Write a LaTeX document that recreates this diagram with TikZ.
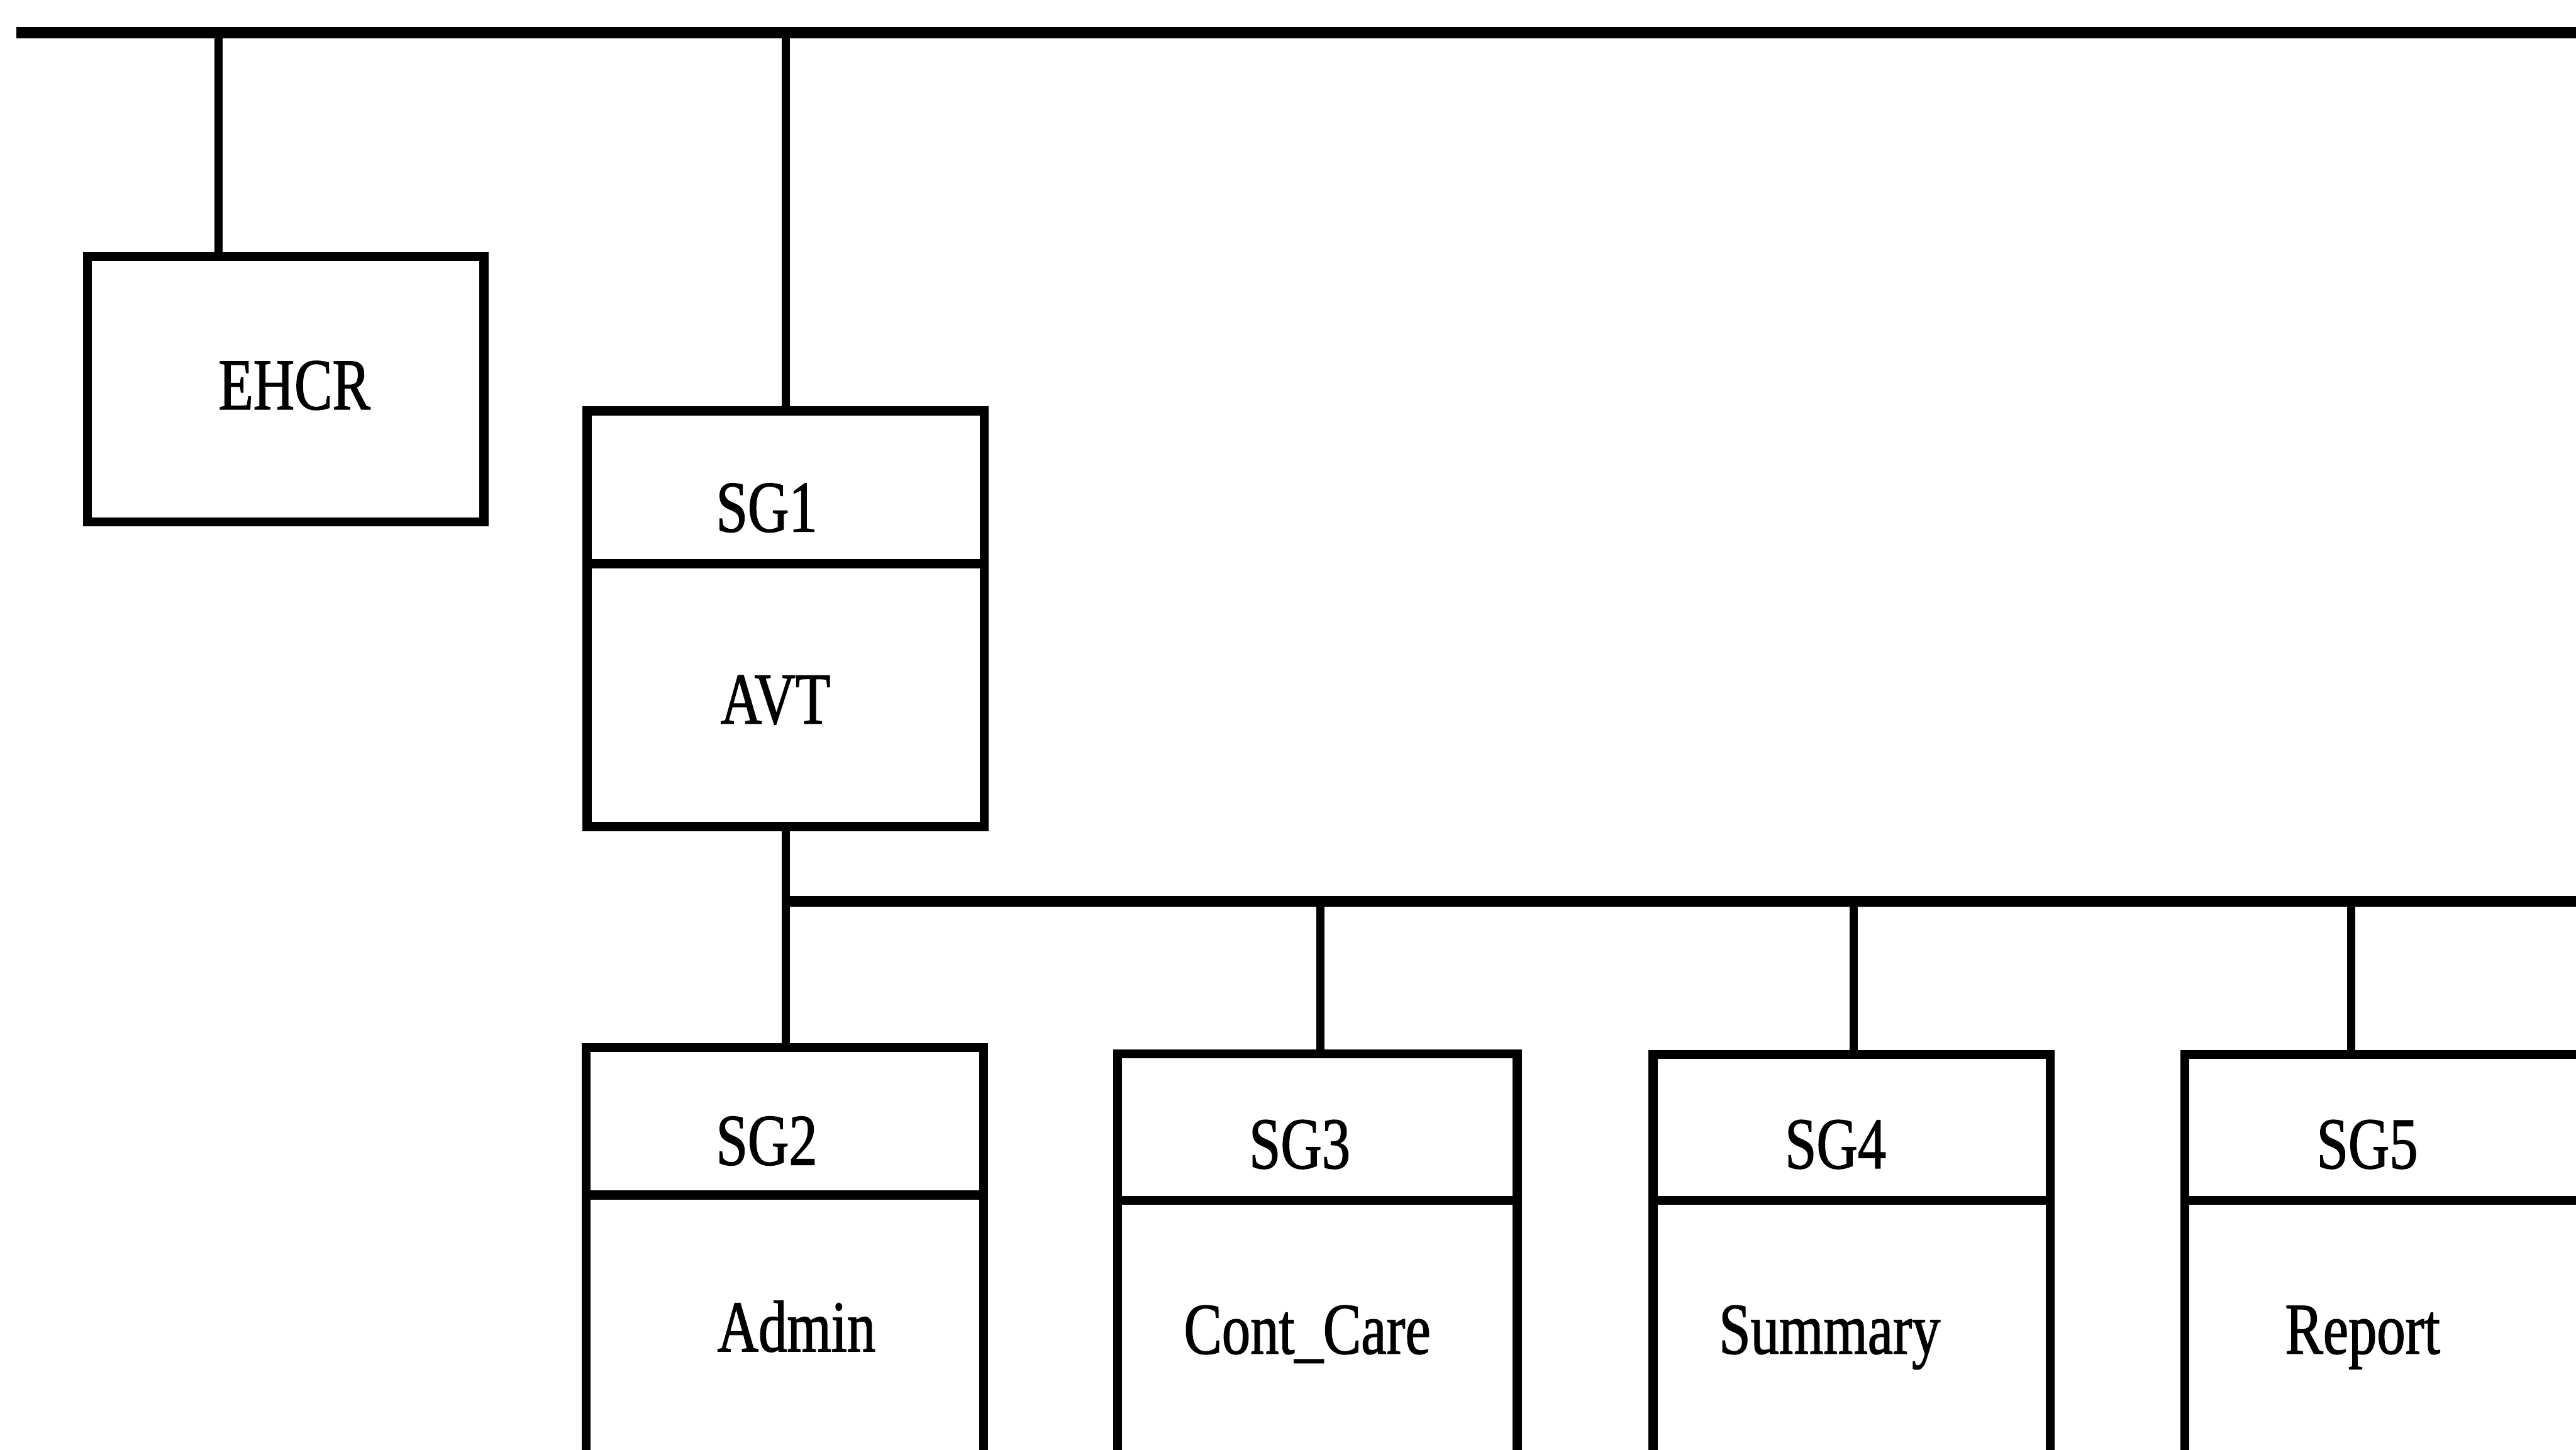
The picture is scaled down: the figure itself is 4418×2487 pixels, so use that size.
\documentclass[tikz,border=0pt]{standalone}
\usepackage{fontspec}
\setmainfont[FakeStretch=0.78,FakeBold=1.2]{Liberation Serif}
\usetikzlibrary{fit}
\begin{document}
\begin{tikzpicture}[x=0.01cm, y=-0.01cm,
  box/.style={draw, line width=0.155cm, inner sep=0pt, outer sep=0pt},
  wire/.style={line width=0.14cm},
  busline/.style={line width=0.19cm},
  lbl/.style={inner sep=0pt, anchor=base, font=\fontsize{35.6}{40}\selectfont}]
\useasboundingbox (0,0) rectangle (4418,2487);
\clip (0,0) rectangle (4418,2487);

% boxes
\node[box, fit={(150,440) (830,895)}] (ehcr) {};
\node[box, fit={(1007,705) (1688,967)}] (sg1) {};
\node[box, fit={(1007,967) (1688,1418)}] (avt) {};
\node[box, fit={(1005,1797) (1687,2050)}] (sg2) {};
\node[box, fit={(1005,2050) (1687,2600)}] (admin) {};
\node[box, fit={(1917,1808) (2602,2059)}] (sg3) {};
\node[box, fit={(1917,2059) (2602,2600)}] (cont) {};
\node[box, fit={(2835,1809) (3516,2059)}] (sg4) {};
\node[box, fit={(2835,2059) (3516,2600)}] (summ) {};
\node[box, fit={(3747,1809) (4429,2059)}] (sg5) {};
\node[box, fit={(3747,2059) (4429,2600)}] (rep) {};

% labels
\node[lbl] (ehcr-t) at (505,702) {EHCR};
\node[lbl] (sg1-t) at (1315,912) {SG1};
\node[lbl] (avt-t) at (1330,1241) {AVT};
\node[lbl] (sg2-t) at (1315,1998) {SG2};
\node[lbl] (admin-t) at (1366,2318) {Admin};
\node[lbl] (sg3-t) at (2229,2004) {SG3};
\node[lbl] (cont-t) at (2242,2322) {Cont\_Care};
\node[lbl] (sg4-t) at (3148,2004) {SG4};
\node[lbl] (summ-t) at (3138,2322) {Summary};
\node[lbl] (sg5-t) at (4060,2004) {SG5};
\node[lbl] (rep-t) at (4052,2322) {Report};

% top bus
\coordinate (busL) at (28,56);
\coordinate (busR) at (4418,56);
\draw[busline] (busL) -- (busR);
\coordinate (j0) at (375,56);
\draw[wire] (j0) -- (j0 |- ehcr.north);
\draw[wire] (sg1.north |- busL) -- (sg1.north);

% lower bus
\draw[wire] (avt.south) -- (avt.south |- sg2.north);
\coordinate (bus2L) at (1347.5,1546);
\coordinate (bus2R) at (4418,1546);
\draw[busline] (bus2L) -- (bus2R);
\coordinate (j3) at (2265,1546);
\coordinate (j4) at (3179,1546);
\coordinate (j5) at (4032,1546);
\draw[wire] (j3) -- (j3 |- sg3.north);
\draw[wire] (j4) -- (j4 |- sg4.north);
\draw[wire] (j5) -- (j5 |- sg5.north);
\end{tikzpicture}
\end{document}
